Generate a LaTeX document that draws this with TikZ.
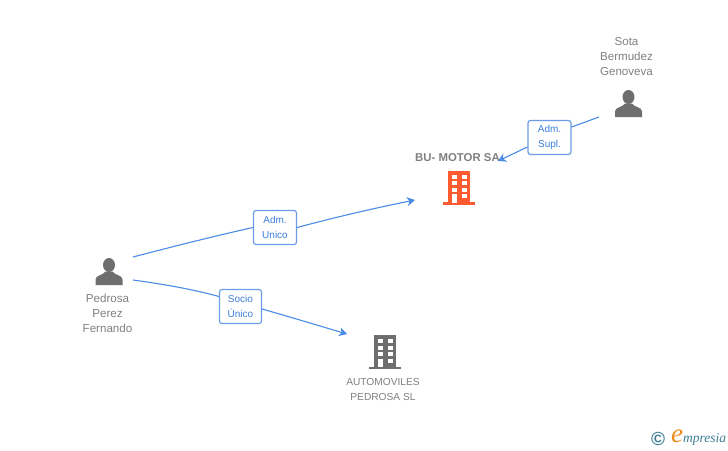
\documentclass[tikz,border=0pt]{standalone}
\usepackage{fontspec}
\setmainfont{Liberation Sans}
\newfontfamily\logofont{Liberation Serif}
\usetikzlibrary{arrows.meta}
\definecolor{linkblue}{HTML}{4A8BE6}
\definecolor{boxblue}{HTML}{6A9DE6}
\definecolor{roletext}{HTML}{3C7FDC}
\definecolor{textgray}{HTML}{808080}
\definecolor{icongray}{HTML}{6E6E6E}
\definecolor{firmorange}{HTML}{FF5A30}
\definecolor{logoteal}{HTML}{3E7F95}
\definecolor{logoorange}{HTML}{EE8A1E}
\tikzset{
  personname/.style={
    rectangle,
    inner sep=0pt,
    align=center,
    text=textgray,
    font=\fontsize{11.6}{15}\selectfont
    },
  firmname/.style={
    rectangle,
    inner sep=0pt,
    align=center,
    text=textgray,
    font=\fontsize{10.2}{15}\selectfont
    },
  rolebox/.style={
    rectangle,
    rounded corners=2.5pt,
    minimum width=43pt,
    minimum height=34pt,
    inner sep=0pt,
    align=center,
    draw=boxblue,
    line width=1.2pt,
    fill=white,
    text=roletext,
    font=\fontsize{10}{15}\selectfont
    },
  iconbox/.style={
    rectangle,
    inner sep=0pt,
    minimum width=27pt,
    minimum height=27pt
    },
  arrow/.style={line width=1.1pt,draw=linkblue,-{Stealth[length=8pt,width=9pt,inset=2.5pt]}},
  plainlink/.style={line width=1.1pt,draw=linkblue},
  personicon/.pic={
    \fill[icongray] (0,-6.5) ellipse (6 and 7);
    \fill[icongray] (-13.5,13.5) -- (-13.5,8) .. controls (-13.5,3.5) and (-6,4) .. (-3.5,0)
      -- (3.5,0) .. controls (6,4) and (13.5,3.5) .. (13.5,8) -- (13.5,13.5) -- cycle;
    },
  pics/firmicon/.style={code={
    \fill[#1] (-11.3,-17) rectangle (11.3,15);
    \fill[#1] (-16,14.6) rectangle (16,17);
    \foreach \yy in {-13,-6.5,0} {
      \fill[white] (-7.5,\yy) rectangle (-2.5,\yy+4);
      \fill[white] (2.5,\yy) rectangle (7.5,\yy+4);
    }
    \fill[white] (-7.5,6.5) rectangle (-2.5,15);
    \fill[white] (2.5,6.5) rectangle (7.5,10.5);
    }},
}
\begin{document}
\begin{tikzpicture}[x=1pt,y=-1pt]
\useasboundingbox (0,0) rectangle (728,450);

% people
\node (pedrosa) [iconbox] at (109,271.5) {};
\pic at (pedrosa) {personicon};
\node (pedrosaname) [personname] at (107.5,313.5) {Pedrosa\\Perez\\Fernando};
\node (sota) [iconbox] at (628.5,103.5) {};
\pic at (sota) {personicon};
\node (sotaname) [personname] at (626.5,56.5) {Sota\\Bermudez\\Genoveva};

% firms
\node (bumotor) [iconbox] at (459,187.5) {};
\pic at (bumotor) {firmicon=firmorange};
\node (bumotorname) [firmname,font=\fontsize{11.4}{15}\selectfont\bfseries] at (457.5,157.5) {BU- MOTOR SA};
\node (automoviles) [iconbox] at (385,352) {};
\pic at (automoviles) {firmicon=icongray};
\node (automovilesname) [firmname] at (383,389) {AUTOMOVILES\\PEDROSA SL};

% roles
\node (admunico) [rolebox] at (275,227.5) {Adm.\\Unico};
\node (sociounico) [rolebox,minimum width=42pt] at (240.5,306.5) {Socio\\Único};
\node (admsupl) [rolebox] at (549.5,137.5) {Adm.\\Supl.};

% free ends
\coordinate (pedrosaup) at (133,257);
\coordinate (pedrosadown) at (133,280);
\coordinate (sotaout) at (599,117);
\coordinate (bumotorin) at (415,200);
\coordinate (automovilesin) at (347,334);
\coordinate (sotain) at (498,161);

% links
\draw [plainlink] (pedrosaup) .. controls (175,246) and (215,236) .. (admunico.west);
\draw [arrow] (admunico.east) .. controls (340,216) and (380,207) .. (bumotorin);
\draw [plainlink] (pedrosadown) .. controls (162,284) and (192,289) .. (sociounico.west |- 0,296.5);
\draw [arrow] (sociounico.east |- 0,309) .. controls (290,317) and (320,326) .. (automovilesin);
\draw [plainlink] (sotaout) -- (admsupl.east |- 0,127);
\draw [arrow] (admsupl.west |- 0,147) -- (sotain);

% logo
\node (logocopy) [inner sep=0pt,text=logoteal,font=\fontsize{19}{19}\selectfont\bfseries] at (658,439) {©};
\node (logoe) [inner sep=0pt,text=logoorange,font=\logofont\itshape\fontsize{27}{27}\selectfont] at (677,436) {e};
\node (logotext) [inner sep=0pt,anchor=west,text=logoteal,font=\logofont\itshape\fontsize{13.5}{13.5}\selectfont] at (683,439) {mpresia};
\end{tikzpicture}
\end{document}
